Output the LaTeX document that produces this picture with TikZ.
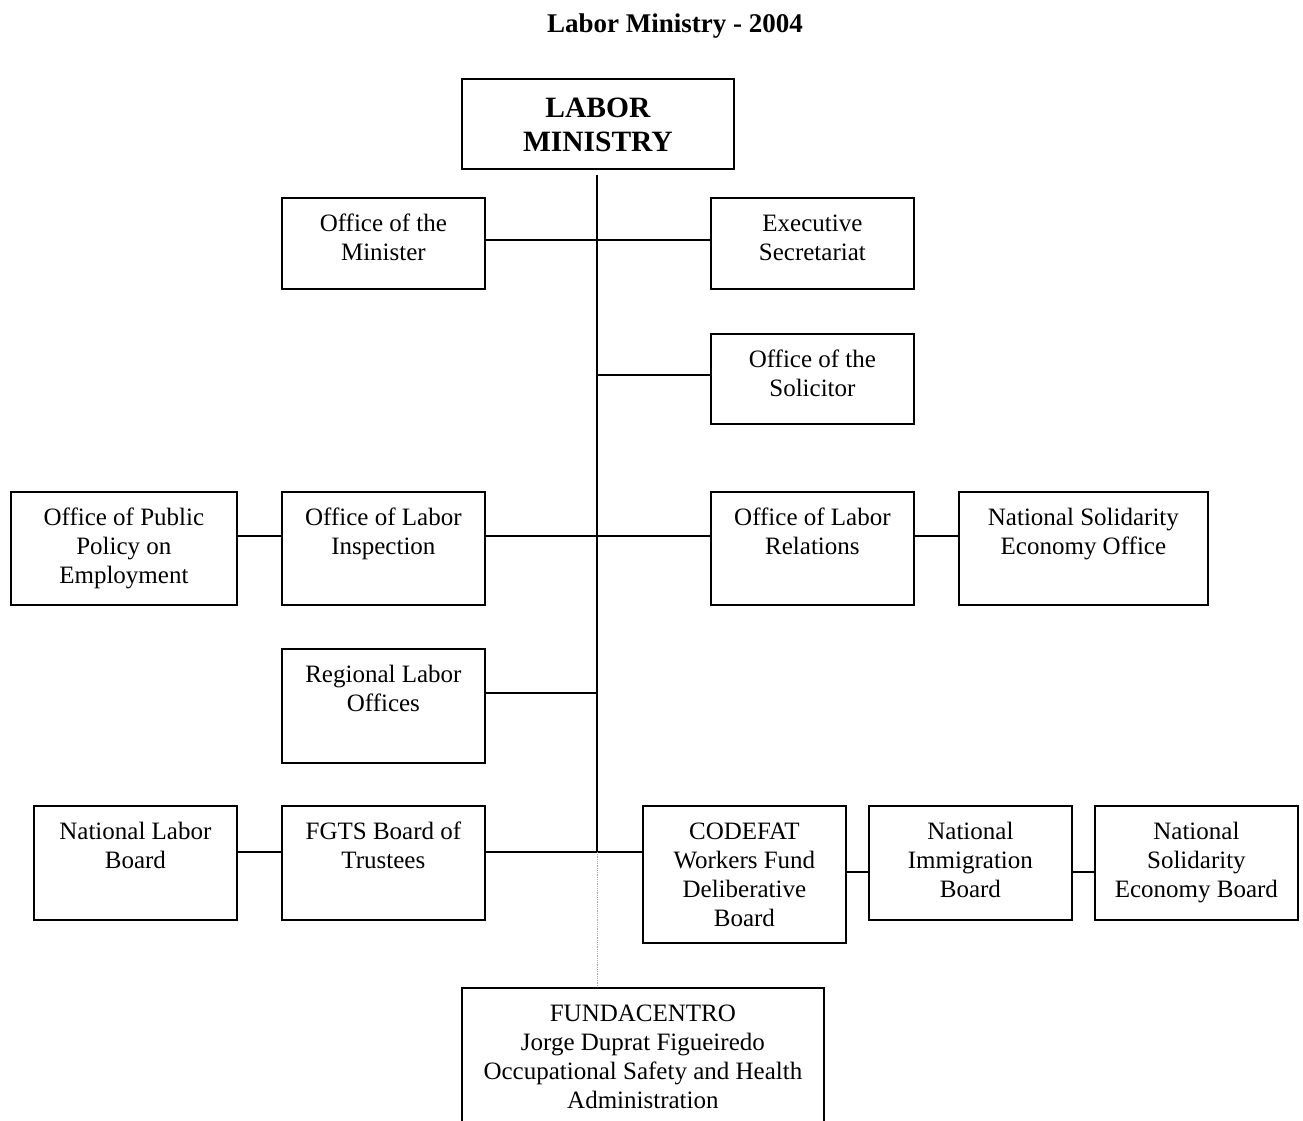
\documentclass[tikz,border=0pt]{standalone}
\usepackage{fontspec}
\setmainfont{Liberation Serif}
\tikzset{
  orgbox/.style={draw, line width=1.8pt, inner sep=0pt, anchor=north west},
  conn/.style={line width=1.8pt},
  dotconn/.style={line width=0.8pt, gray!70, densely dotted},
}
\newcommand\orgnode[6]{%
  \node[orgbox] (#1) at (#2,#3) {\begin{minipage}[t][#5pt][t]{#4pt}\centering\fontsize{25}{29}\selectfont\vspace*{13.5pt}\strut #6\par\end{minipage}};}
\begin{document}
\begin{tikzpicture}[x=1pt,y=-1pt]
\useasboundingbox (0,0) rectangle (1303,1120);
\node[font=\bfseries\fontsize{27}{32}\selectfont] (title) at (675,26) {Labor Ministry - 2004};
\node[orgbox] (top) at (461,78) {\begin{minipage}[t][90pt][t]{272pt}\centering\bfseries\fontsize{29.5}{34}\selectfont\vspace*{15pt}\strut LABOR\\MINISTRY\par\end{minipage}};
\orgnode{min}{281}{197}{203}{91}{Office of the\\Minister}
\orgnode{exe}{710}{197}{203}{91}{Executive\\Secretariat}
\orgnode{sol}{710}{333}{203}{90}{Office of the\\Solicitor}
\orgnode{pub}{10}{491}{226}{113}{Office of Public\\Policy on\\Employment}
\orgnode{ins}{281}{491}{203}{113}{Office of Labor\\Inspection}
\orgnode{rel}{710}{491}{203}{113}{Office of Labor\\Relations}
\orgnode{nse}{958}{491}{249}{113}{National Solidarity\\Economy Office}
\orgnode{reg}{281}{648}{203}{114}{Regional Labor\\Offices}
\orgnode{nlb}{33}{805}{203}{114}{National Labor\\Board}
\orgnode{fgts}{281}{805}{203}{114}{FGTS Board of\\Trustees}
\orgnode{cod}{642}{805}{203}{137}{CODEFAT\\Workers Fund\\Deliberative\\Board}
\orgnode{imm}{868}{805}{203}{114}{National\\Immigration\\Board}
\orgnode{nseb}{1094}{805}{203}{114}{National\\Solidarity\\Economy Board}
\orgnode{fun}{461}{987}{362}{140}{FUNDACENTRO\\Jorge Duprat Figueiredo\\Occupational Safety and Health\\Administration}
\coordinate (t0) at (597,175);
\coordinate (t5) at (597,852);
\draw[conn] (t0) -- (t5);
\draw[conn] ([yshift=-43pt]min.north east) -- ([yshift=-43pt]exe.north west);
\draw[conn] ([yshift=-42pt]sol.north west) -- ([yshift=-42pt]sol.north west -| t0);
\draw[conn] ([yshift=-45pt]pub.north east) -- ([yshift=-45pt]ins.north west);
\draw[conn] ([yshift=-45pt]ins.north east) -- ([yshift=-45pt]rel.north west);
\draw[conn] ([yshift=-45pt]rel.north east) -- ([yshift=-45pt]nse.north west);
\draw[conn] ([yshift=-45pt]reg.north east) -- ([yshift=-45pt]reg.north east -| t0);
\draw[conn] ([yshift=-47pt]nlb.north east) -- ([yshift=-47pt]fgts.north west);
\draw[conn] ([yshift=-47pt]fgts.north east) -- ([yshift=-47pt]cod.north west);
\draw[conn] ([yshift=-67pt]cod.north east) -- ([yshift=-67pt]imm.north west);
\draw[conn] ([yshift=-67pt]imm.north east) -- ([yshift=-67pt]nseb.north west);
\draw[dotconn] (t5) -- (t5 |- fun.north);
\end{tikzpicture}
\end{document}
